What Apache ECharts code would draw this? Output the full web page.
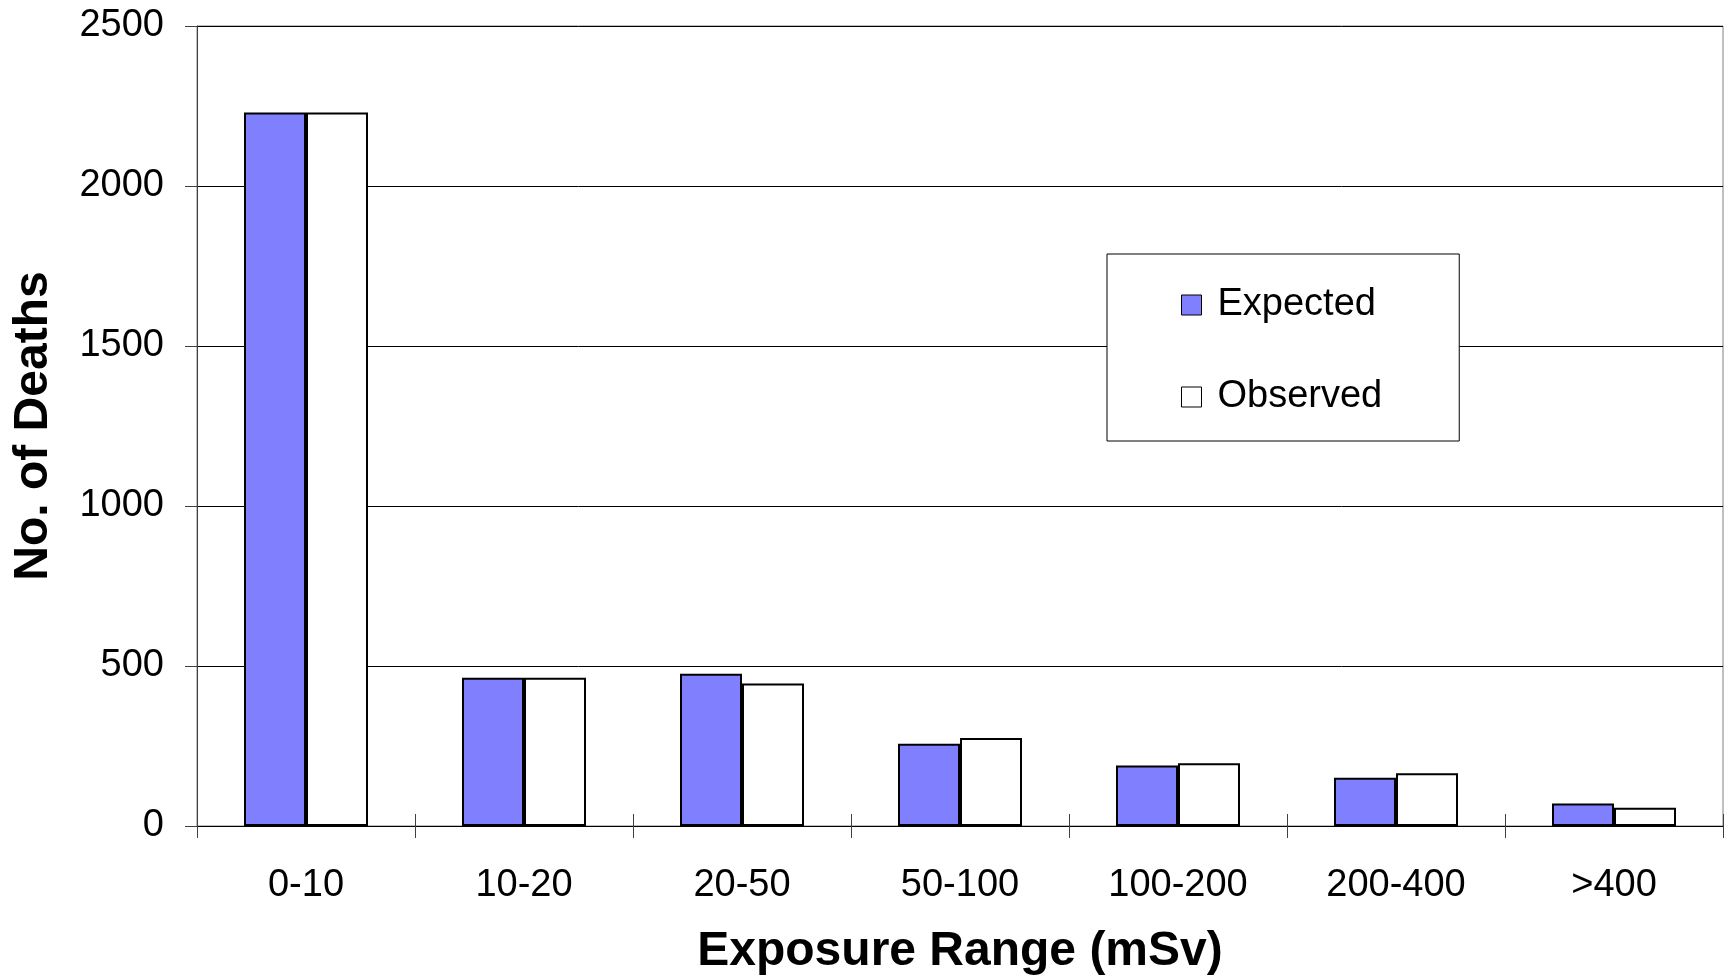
<!DOCTYPE html>
<html>
<head>
<meta charset="utf-8">
<script src="https://cdn.jsdelivr.net/npm/echarts@6/dist/echarts.min.js"></script>
<style>html,body{margin:0;padding:0;background:#fff;}#c{width:1731px;height:977px;}</style>
</head>
<body>
<div id="c"></div>
<script>
const categories = ['0-10', '10-20', '20-50', '50-100', '100-200', '200-400', '>400'];
const expected = [2230, 463, 476, 257, 189, 151, 70];
const observed = [2230, 463, 445, 275, 196, 165, 57];
const yTicks = [0, 500, 1000, 1500, 2000, 2500];

const FONT = '"Liberation Sans", Arial, sans-serif';
const chart = echarts.init(document.getElementById('c'), null, {renderer: 'canvas'});
chart.setOption({
  animation: false,
  backgroundColor: '#fff',
  textStyle: {fontFamily: FONT},
  grid: {left: 197, right: 8, top: 26, bottom: 151, containLabel: false, outerBoundsMode: 'none',
    show: true, borderColor: '#808080', borderWidth: 1},
  legend: {
    orient: 'vertical', left: 1107, top: 254,
    padding: [32, 77, 25, 74],
    borderColor: '#000', borderWidth: 1, backgroundColor: '#fff',
    itemWidth: 20, itemHeight: 20, itemGap: 54,
    icon: 'rect',
    textStyle: {fontSize: 38, color: '#000', fontFamily: FONT, padding: [0, 0, 0, 11]},
    itemStyle: {borderWidth: 1, borderColor: '#000'},
    data: ['Expected', 'Observed']
  },
  xAxis: [{
    type: 'category', data: categories, position: 'bottom',
    name: 'Exposure Range (mSv)', nameLocation: 'middle', nameGap: 102,
    nameTextStyle: {fontSize: 48, fontWeight: 'bold', color: '#000', fontFamily: FONT},
    axisLine: {show: true, lineStyle: {color: '#000', width: 1}},
    axisTick: {show: true, inside: false, length: 12, lineStyle: {color: '#404040'}},
    axisLabel: {fontSize: 38, color: '#000', margin: 41, fontFamily: FONT}
  }, {
    type: 'category', data: categories, position: 'bottom', gridIndex: 0,
    axisLine: {show: false},
    axisTick: {show: true, inside: true, length: 12, lineStyle: {color: '#404040'}},
    axisLabel: {show: false}
  }],
  yAxis: {
    type: 'value', min: 0, max: 2500, interval: 500,
    name: 'No. of Deaths', nameLocation: 'middle', nameGap: 139,
    nameTextStyle: {fontSize: 48, fontWeight: 'bold', color: '#000', fontFamily: FONT},
    axisLine: {show: true, lineStyle: {color: '#404040', width: 1}},
    axisTick: {show: true, inside: false, length: 12, lineStyle: {color: '#404040'}},
    axisLabel: {fontSize: 38, color: '#000', margin: 33, fontFamily: FONT,
      formatter: v => yTicks.includes(v) ? String(v) : ''},
    splitLine: {show: true, lineStyle: {color: '#000', width: 1}}
  },
  series: [{
    name: 'Expected', type: 'bar', data: expected, xAxisIndex: 0,
    barWidth: 62, barGap: '0%',
    itemStyle: {color: '#8080FF', borderColor: '#000', borderWidth: 2}
  }, {
    name: 'Observed', type: 'bar', data: observed, xAxisIndex: 0,
    barWidth: 62, barGap: '0%',
    itemStyle: {color: '#FFFFFF', borderColor: '#000', borderWidth: 2}
  }]
});
</script>
</body>
</html>
